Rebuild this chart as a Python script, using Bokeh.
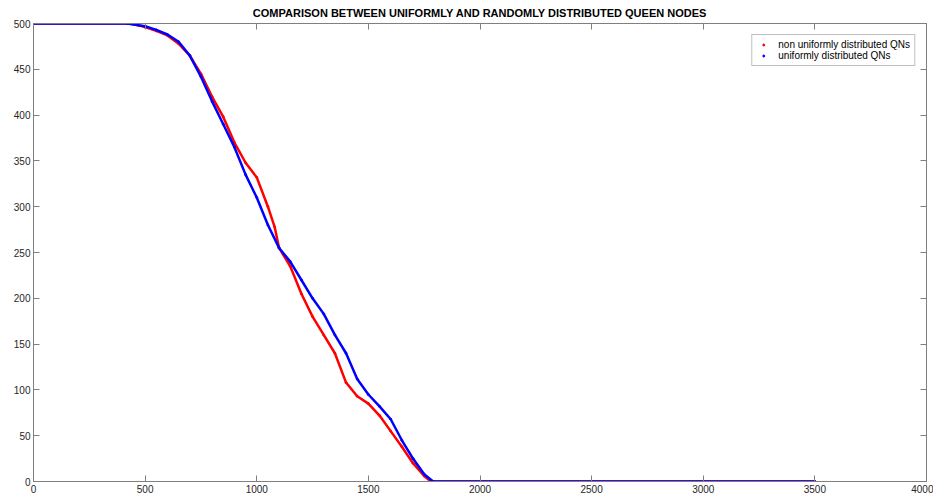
from bokeh.plotting import figure
from bokeh.models import Range1d, LinearAxis, FixedTicker, Legend, LegendItem
from bokeh.embed import file_html
from bokeh.resources import INLINE

# Rounds and remaining queen nodes for each placement strategy
rounds_nonuniform = [0, 430, 470, 500, 550, 600, 650, 700, 750, 800, 850, 900, 950,
                     1000, 1050, 1080, 1100, 1150, 1200, 1250, 1300, 1350, 1400,
                     1450, 1500, 1550, 1600, 1650, 1700, 1750, 1780, 3500]
nodes_nonuniform = [500, 500, 498, 496, 492, 487, 478, 465, 445, 420, 398, 370, 348,
                    332, 300, 278, 255, 235, 205, 180, 160, 140, 108,
                    93, 85, 72, 55, 38, 20, 6, 0, 0]

rounds_uniform = [0, 420, 500, 550, 600, 650, 700, 750, 800, 850, 900, 950, 1000,
                  1050, 1100, 1150, 1200, 1250, 1300, 1350, 1400, 1450, 1500,
                  1550, 1600, 1650, 1700, 1750, 1790, 3500]
nodes_uniform = [500, 500, 497, 493, 488, 480, 465, 442, 415, 390, 365, 335, 310,
                 280, 255, 240, 220, 200, 183, 160, 140, 112, 95,
                 82, 68, 45, 25, 8, 0, 0]

x_ticks = [0, 500, 1000, 1500, 2000, 2500, 3000, 3500, 4000]
y_ticks = [0, 50, 100, 150, 200, 250, 300, 350, 400, 450, 500]

AXIS_GREY = "#7f7f7f"
FONT = "Liberation Sans"

p = figure(width=933, height=498, output_backend="svg", toolbar_location=None,
           x_range=Range1d(0, 4000), y_range=Range1d(0, 500),
           min_border_left=33, min_border_right=7, min_border_top=23,
           min_border_bottom=17,
           title="COMPARISON BETWEEN UNIFORMLY AND RANDOMLY DISTRIBUTED QUEEN NODES")
p.title.align = "center"
p.title.text_font = FONT
p.title.text_font_size = "11px"
p.title.text_font_style = "bold"
p.title.text_color = "#000000"
p.title.offset = 0
p.title.standoff = 9
p.xgrid.visible = False
p.ygrid.visible = False
p.outline_line_color = AXIS_GREY
p.background_fill_color = "white"
p.border_fill_color = "white"

def style_axis(ax, ticks, show_labels):
    ax.ticker = FixedTicker(ticks=ticks)
    ax.axis_line_color = AXIS_GREY
    ax.major_tick_line_color = AXIS_GREY
    ax.major_tick_in = 6
    ax.major_tick_out = 0
    ax.minor_tick_line_color = None
    ax.major_label_text_font = FONT
    ax.major_label_text_font_size = "10px" if show_labels else "0px"
    ax.major_label_text_color = "#262626" if show_labels else None
    ax.major_label_standoff = 3 if show_labels else 0

style_axis(p.xaxis[0], x_ticks, True)
style_axis(p.yaxis[0], y_ticks, True)

top_axis = LinearAxis()
right_axis = LinearAxis()
style_axis(top_axis, x_ticks, False)
style_axis(right_axis, y_ticks, False)
p.add_layout(top_axis, "above")
p.add_layout(right_axis, "right")

red_line = p.line(rounds_nonuniform, nodes_nonuniform, line_color="#ff0000", line_width=2.5)
red_dots = p.scatter(rounds_nonuniform, nodes_nonuniform, size=2,
                     fill_color="#ff0000", line_color="#ff0000")
blue_line = p.line(rounds_uniform, nodes_uniform, line_color="#0000ff", line_width=2.5)
blue_dots = p.scatter(rounds_uniform, nodes_uniform, size=2,
                      fill_color="#0000ff", line_color="#0000ff")

legend = Legend(items=[
    LegendItem(label="non uniformly distributed QNs", renderers=[red_dots]),
    LegendItem(label="uniformly distributed QNs", renderers=[blue_dots]),
], location="top_right")
legend.margin = 11
legend.padding = 4
legend.spacing = 0
legend.glyph_width = 14
legend.glyph_height = 5
legend.label_height = 11
legend.label_standoff = 8
legend.label_text_font = FONT
legend.label_text_font_size = "10px"
legend.label_text_color = "#000000"
legend.border_line_color = AXIS_GREY
legend.background_fill_color = "white"
p.add_layout(legend, "center")

open("out.html", "w").write(file_html(p, INLINE))
